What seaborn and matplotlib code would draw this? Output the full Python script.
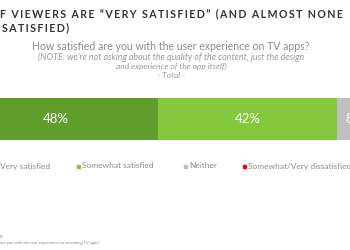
import seaborn as sns
import pandas as pd
import matplotlib.pyplot as plt
from matplotlib.patches import Rectangle

categories = ['Very satisfied', 'Somewhat satisfied', 'Neither', 'Somewhat/Very dissatisfied']
values = [48, 42, 8, 2]
labels = ['48%', '42%', '8%', '']
colors = ['#5f9e2a', '#84c83e', '#bfbfbf', '#ff0000']

title_lines = ['F VIEWERS ARE \u201cVERY SATISFIED\u201d (AND ALMOST NONE', 'SATISFIED)']
question = 'How satisfied are you with the user experience on TV apps?'
note = ["(NOTE: we're not asking about the quality of the content, just the design",
        'and experience of the app itself)', '- Total -']
footnote = ['B', 'are you with the user experience on streaming TV apps?']

sns.set_style('white')
plt.rcParams['font.family'] = ['Lato', 'DejaVu Sans']

W, H = 350, 250
fig = plt.figure(figsize=(3.5, 2.5), dpi=100)

# the slide is cropped: bar starts left of the picture and runs past the right edge
x0, x1 = -46.6, 380
ytop, ybot = 98, 140
ax = fig.add_axes([x0 / W, 1 - ybot / H, (x1 - x0) / W, (ybot - ytop) / H])

df = pd.DataFrame({'cat': categories, 'val': values})
df['cum'] = df['val'].cumsum()
# draw cumulative totals from largest to smallest so they look stacked
for i in range(len(df) - 1, -1, -1):
    sns.barplot(x=[df['cum'][i]], y=['Total'], color=colors[i], width=1.0,
                saturation=1, linewidth=0, ax=ax, orient='h')
ax.set_xlim(0, 100)
ax.set_ylim(0.5, -0.5)
ax.axis('off')

start = 0
for v, lab in zip(values, labels):
    if lab:
        ax.text(start + v / 2, 0, lab, ha='center', va='center', color='white', fontsize=9.5)
    start += v

# title, letter-spaced with thin spaces
spaced = lambda s: '\u2009'.join(s)
fig.text(0, 1 - 14 / H, spaced(title_lines[0]), fontsize=7.7, fontweight='bold',
         color='#333333', ha='left', va='center', family=['Lato', 'DejaVu Sans'])
fig.text(2 / W, 1 - 28 / H, spaced(title_lines[1]), fontsize=7.7, fontweight='bold',
         color='#333333', ha='left', va='center', family=['Lato', 'DejaVu Sans'])

fig.text(171 / W, 1 - 47 / H, question, fontsize=7.6, color='#8c8c8c', ha='center', va='center')
note_sizes = [6.4, 6.0, 6.0]
for k, line in enumerate(note):
    fig.text(171 / W, 1 - (57 + 9 * k) / H, line, fontsize=note_sizes[k], color='#9a9a9a',
             style='italic', ha='center', va='center')

# legend
leg_items = [(-5, 'Very satisfied'), (77, 'Somewhat satisfied'), (184, 'Neither'),
             (243, 'Somewhat/Very dissatisfied')]
for (lx, name), c in zip(leg_items, colors):
    fig.patches.append(Rectangle((lx / W, 1 - 168 / H), 3 / W, 3 / H, color=c,
                                 transform=fig.transFigure))
    fig.text((lx + 5) / W, 1 - 166 / H, name, fontsize=6, color='#8c8c8c',
             ha='left', va='center')

fig.text(0, 1 - 237 / H, footnote[0], fontsize=3, color='#8c8c8c', ha='left', va='center')
fig.text(0, 1 - 243 / H, footnote[1], fontsize=3, color='#8c8c8c', ha='left', va='center')

fig.savefig('out.png', dpi=100)
